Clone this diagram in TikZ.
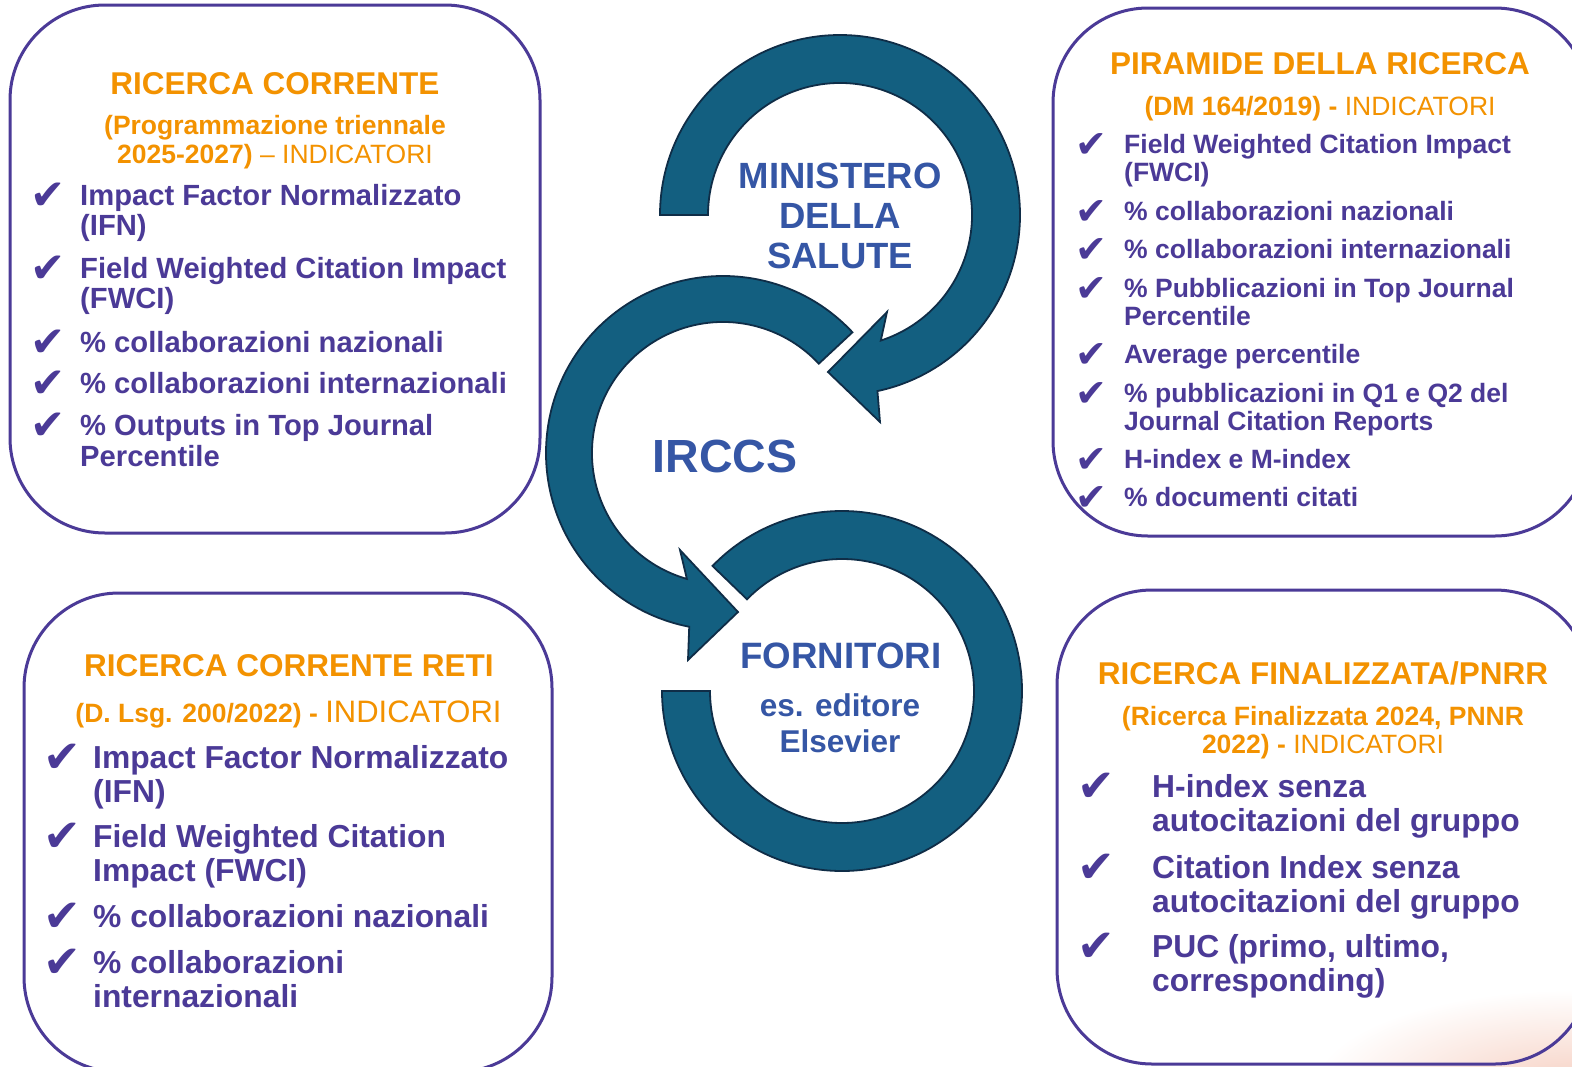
\documentclass[tikz,border=0pt]{standalone}
\usepackage{fontspec}
\setmainfont{Liberation Sans}
\newfontfamily\symfont{DejaVu Sans}
\usetikzlibrary{calc}
\definecolor{orng}{HTML}{F39200}
\definecolor{purp}{HTML}{4B3A97}
\definecolor{cblue}{HTML}{3556A5}
\definecolor{afill}{HTML}{135F80}
\definecolor{aline}{HTML}{0F2D47}
\definecolor{peach}{HTML}{F6CFC1}
\begin{document}
\begin{tikzpicture}[x=1pt,y=1pt,yscale=-1,
  panel/.style={draw=purp,line width=3pt,rounded corners=95pt},
  ttl/.style={text=orng,font=\fontsize{31.5}{36}\selectfont\bfseries,inner sep=0pt,anchor=base},
  sub/.style={text=orng,font=\fontsize{26.5}{28.5}\selectfont,inner sep=0pt,anchor=base,align=center},
  itA/.style={text=purp,font=\fontsize{29.2}{30.5}\selectfont\bfseries,inner sep=0pt,anchor=base west,align=left},
  itB/.style={text=purp,font=\fontsize{26.5}{28.5}\selectfont\bfseries,inner sep=0pt,anchor=base west,align=left},
  itC/.style={text=purp,font=\fontsize{31.8}{34.8}\selectfont\bfseries,inner sep=0pt,anchor=base west,align=left},
  chk/.style={text=purp,inner sep=0pt,anchor=base west,font=\symfont\fontsize{#1}{#1}\selectfont},
  ctr/.style={text=cblue,inner sep=0pt,anchor=base,align=center},
  arr/.style={fill=afill,draw=aline,line width=1.8pt,line join=miter}]
\useasboundingbox (0,0) rectangle (1572,1066);
\clip (0,0) rectangle (1572,1066);
\fill[white] (0,0) rectangle (1572,1066);
\shade[inner color=peach,outer color=white] (1572,1090) ellipse [x radius=260, y radius=100];

% panels
\draw[panel] (10,5) rectangle (540,533);
\draw[panel] (1053,8) rectangle (1590,536);
\draw[panel] (24,593) rectangle (552,1072);
\draw[panel] (1057,590) rectangle (1590,1064);

% circular arrows
\coordinate (c1) at (840,215);
\coordinate (c2) at (723,453);
\coordinate (c3) at (842,691);
\draw[arr] ($(c1)+(-180:180)$) arc[start angle=-180, end angle=78, radius=180]
  -- (880,422) -- (828,372) -- (887,312) -- ($(c1)+(72:132)$)
  arc[start angle=72, end angle=-180, radius=132] -- cycle;
\draw[arr] ($(c2)+(-43:177)$) arc[start angle=-43, end angle=-259, radius=177]
  -- (688,660) -- (738,612) -- (680,550) -- ($(c2)+(-254:131)$)
  arc[start angle=-254, end angle=-43, radius=131] -- cycle;
\draw[arr] ($(c3)+(-136:180)$) arc[start angle=-136, end angle=180, radius=180]
  -- ($(c3)+(180:132)$) arc[start angle=180, end angle=-136, radius=132] -- cycle;

% centre labels (multi-line nodes are anchored at the baseline of their last line)
\node[ctr,font=\fontsize{36.5}{40}\selectfont\bfseries] (min) at (840,268) {MINISTERO\\DELLA\\SALUTE};
\node[ctr,font=\fontsize{46.5}{50}\selectfont\bfseries] (irccs) at (725,472) {IRCCS};
\node[ctr,font=\fontsize{36.7}{40}\selectfont\bfseries] (forn) at (841,668) {FORNITORI};
\node[ctr,font=\fontsize{31.5}{36}\selectfont\bfseries] (els) at (840,752) {es. editore\\Elsevier};

% box 1
\node[ttl] (t1) at (275,94) {RICERCA CORRENTE};
\node[sub] (s1) at (275,163) {\textbf{(Programmazione triennale}\\\textbf{2025-2027)} – INDICATORI};
\node[chk=42] (k11) at (30,209) {✔};
\node[itA] (i11) at (80,235.5) {Impact Factor Normalizzato\\(IFN)};
\node[chk=42] (k12) at (30,282) {✔};
\node[itA] (i12) at (80,308.5) {Field Weighted Citation Impact\\(FWCI)};
\node[chk=42] (k13) at (30,356) {✔};
\node[itA] (i13) at (80,352) {\% collaborazioni nazionali};
\node[chk=42] (k14) at (30,397) {✔};
\node[itA] (i14) at (80,393) {\% collaborazioni internazionali};
\node[chk=42] (k15) at (30,439) {✔};
\node[itA] (i15) at (80,466) {\% Outputs in Top Journal\\Percentile};

% box 2
\node[ttl] (t2) at (1320,74) {PIRAMIDE DELLA RICERCA};
\node[sub] (s2) at (1320,115) {\textbf{(DM 164/2019) -} INDICATORI};
\node[chk=38] (k21) at (1075,157) {✔};
\node[itB] (i21) at (1124,181.5) {Field Weighted Citation Impact\\(FWCI)};
\node[chk=38] (k22) at (1075,224) {✔};
\node[itB] (i22) at (1124,220) {\% collaborazioni nazionali};
\node[chk=38] (k23) at (1075,262) {✔};
\node[itB] (i23) at (1124,258) {\% collaborazioni internazionali};
\node[chk=38] (k24) at (1075,301) {✔};
\node[itB] (i24) at (1124,325.5) {\% Pubblicazioni in Top Journal\\Percentile};
\node[chk=38] (k25) at (1075,367) {✔};
\node[itB] (i25) at (1124,363) {Average percentile};
\node[chk=38] (k26) at (1075,406) {✔};
\node[itB] (i26) at (1124,430.5) {\% pubblicazioni in Q1 e Q2 del\\Journal Citation Reports};
\node[chk=38] (k27) at (1075,472) {✔};
\node[itB] (i27) at (1124,468) {H-index e M-index};
\node[chk=38] (k28) at (1075,510) {✔};
\node[itB] (i28) at (1124,506) {\% documenti citati};

% box 3
\node[ttl] (t3) at (289,676) {RICERCA CORRENTE RETI};
\node[sub] (s3) at (288.5,722) {\textbf{(D. Lsg. 200/2022) -} {\fontsize{31}{34}\selectfont INDICATORI}};
\node[chk=45] (k31) at (43,772) {✔};
\node[itC] (i31) at (93,802.8) {Impact Factor Normalizzato\\(IFN)};
\node[chk=45] (k32) at (43,851) {✔};
\node[itC] (i32) at (93,881.8) {Field Weighted Citation\\Impact (FWCI)};
\node[chk=45] (k33) at (43,931) {✔};
\node[itC] (i33) at (93,927) {\% collaborazioni nazionali};
\node[chk=45] (k34) at (43,977) {✔};
\node[itC] (i34) at (93,1007.8) {\% collaborazioni\\internazionali};

% box 4
\node[ttl] (t4) at (1323,684) {RICERCA FINALIZZATA/PNRR};
\node[sub] (s4) at (1323,753.5) {\textbf{(Ricerca Finalizzata 2024, PNNR}\\\textbf{2022) -} INDICATORI};
\node[chk=45] (k41) at (1077,801) {✔};
\node[itC] (i41) at (1152,831.8) {H-index senza\\autocitazioni del gruppo};
\node[chk=45] (k42) at (1077,882) {✔};
\node[itC] (i42) at (1152,912.8) {Citation Index senza\\autocitazioni del gruppo};
\node[chk=45] (k43) at (1077,961) {✔};
\node[itC] (i43) at (1152,991.8) {PUC (primo, ultimo,\\corresponding)};
\end{tikzpicture}
\end{document}
